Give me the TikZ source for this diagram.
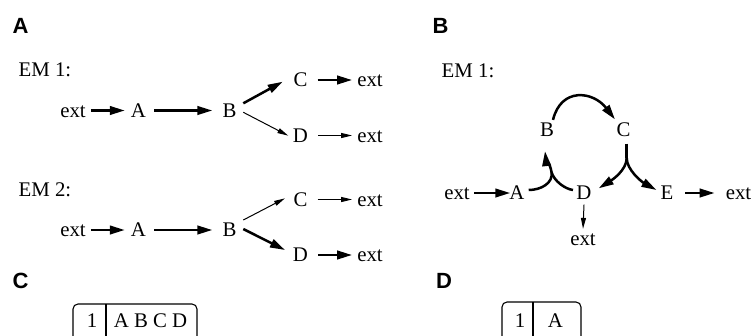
\documentclass[tikz,border=0pt]{standalone}
\usepackage{fontspec}
\setmainfont{Liberation Serif}
\newfontfamily\panelfont{Liberation Sans}
\usetikzlibrary{arrows.meta,calc}

\begin{document}
\begin{tikzpicture}[x=1pt,y=-1pt,
  lbl/.style={font=\fontsize{20.8}{24}\selectfont, inner sep=0pt,
    text height=13.8pt, text depth=0pt, anchor=center},
  panel/.style={font=\panelfont\bfseries\fontsize{22}{24}\selectfont,
    inner sep=0pt, text height=15.8pt, text depth=0pt, anchor=west},
  heavy/.style={line width=2.5pt, -{Triangle[length=15pt,width=8.5pt]}},
  light/.style={line width=1pt, -{Triangle[length=11pt,width=5pt]}},
  bare/.style={line width=2.5pt},
  tbl/.style={line width=1.1pt, rounded corners=5pt},
]
\useasboundingbox (0,0) rectangle (752,335);

% ---------- panel A ----------
\node[panel] (pA) at (12.5,26) {A};
\node[lbl, anchor=west] (em1) at (18.5,69.5) {EM 1:};
\node[lbl] (e1) at (73,110.5) {ext};
\node[lbl] (a1) at (138.5,110.5) {A};
\node[lbl] (b1) at (229.5,110.5) {B};
\node[lbl] (c1) at (300.5,80) {C};
\node[lbl] (d1) at (300.5,135.5) {D};
\node[lbl] (x1) at (370,80) {ext};
\node[lbl] (y1) at (370,135.5) {ext};

\draw[heavy] ([xshift=5]e1.east) -- ([xshift=-6]a1.west);
\draw[heavy] ([xshift=8]a1.east) -- ([xshift=-10]b1.west);
\draw[heavy] ($(b1.center)+(13.8,-7.2)$) -- ($(c1.center)+(-17.8,1.7)$);
\draw[light] ($(b1.center)+(13.8,1.8)$) -- ($(d1.center)+(-12.2,0.2)$);
\draw[heavy] ([xshift=10]c1.east) -- ([xshift=-5]x1.west);
\draw[light] ([xshift=10]d1.east) -- ([xshift=-5]y1.west);

\node[lbl, anchor=west] (em2) at (18.5,190) {EM 2:};
\node[lbl] (e2) at (73,230) {ext};
\node[lbl] (a2) at (138.5,230) {A};
\node[lbl] (b2) at (229.5,230) {B};
\node[lbl] (c2) at (300.5,199.5) {C};
\node[lbl] (d2) at (300.5,255) {D};
\node[lbl] (x2) at (370,199.5) {ext};
\node[lbl] (y2) at (370,255) {ext};

\draw[heavy] ([xshift=5]e2.east) -- ([xshift=-6]a2.west);
\draw[heavy] ([xshift=8]a2.east) -- ([xshift=-10]b2.west);
\draw[light] ($(b2.center)+(13.8,-10)$) -- ($(c2.center)+(-15.5,-1.2)$);
\draw[heavy] ($(b2.center)+(13.8,-1)$) -- ($(d2.center)+(-15.5,-5)$);
\draw[light] ([xshift=10]c2.east) -- ([xshift=-5]x2.west);
\draw[heavy] ([xshift=10]d2.east) -- ([xshift=-5]y2.west);

% ---------- panel B ----------
\node[panel] (pB) at (432.5,26) {B};
\node[lbl, anchor=west] (em3) at (441.5,71) {EM 1:};
\node[lbl] (eB) at (457,193) {ext};
\node[lbl] (aB) at (517,193) {A};
\node[lbl] (bB) at (547,130) {B};
\node[lbl] (cB) at (623.5,130) {C};
\node[lbl] (dB) at (584,193) {D};
\node[lbl] (fB) at (667,193) {E};
\node[lbl] (xB) at (738.5,193) {ext};
\node[lbl] (yB) at (583,239) {ext};

\draw[heavy] ([xshift=4.5]eB.east) -- ([xshift=1]aB.west);
\draw[heavy] ([xshift=11.5]fB.east) -- ([xshift=-11]xB.west);
\draw[light] ($(dB.south)+(0,4.5)$) -- ($(yB.north)+(0,-3)$);

% B -> C over the top
\draw[heavy] ($(bB.north)+(6,-3)$) .. controls (561,87) and (593,91) .. ($(cB.north)+(-8.5,-3.5)$);

% A -> B, joined by the branch coming from D
\coordinate (mAB) at (551.5,172);
\draw[heavy] ($(aB.east)+(4,-3)$) .. controls (541,190) and (553.5,183) .. (mAB)
  .. controls (550,163) and (546,160) .. ($(bB.south)+(-2,14)$);
\draw[bare] ($(dB.west)+(-3.3,-3)$) .. controls (565,189) and (554,181) .. (mAB);

% C -> D and C -> E, sharing one stem
\coordinate (sC) at (626.7,158);
\draw[bare] ($(cB.south)+(3.2,6.5)$) -- (sC);
\draw[heavy] (sC) .. controls (626.7,170) and (612,180) .. ($(dB.east)+(7,-4.7)$);
\draw[heavy] (sC) .. controls (626.7,170) and (642,182) .. ($(fB.west)+(-4,-3)$);

% ---------- panel C ----------
\node[panel] (pC) at (12.5,281) {C};
\draw[tbl] (73,345) -- (73,304) -- (197,304) -- (197,345);
\draw[line width=1.1pt] (106,304) -- (106,345);
\node[lbl] (c1n) at (92,321) {1};
\node[lbl] (c1t) at (150.5,321) {A B C D};

% ---------- panel D ----------
\node[panel] (pD) at (436,281) {D};
\draw[tbl] (502,345) -- (502,302) -- (581,302) -- (581,345);
\draw[line width=1.1pt] (533,302) -- (533,345);
\node[lbl] (d1n) at (520,321) {1};
\node[lbl] (d1t) at (555.5,321) {A};
\end{tikzpicture}
\end{document}
